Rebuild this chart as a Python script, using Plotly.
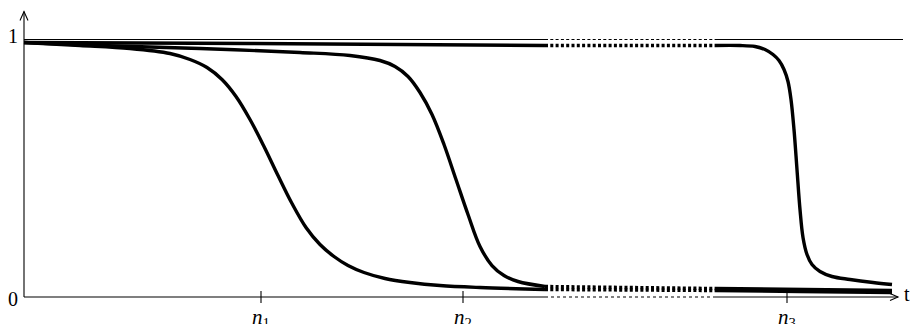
import plotly.graph_objects as go

# ---- data (t: time in arbitrary units along the axis, y: probability) ----
gap_start = 521
gap_end = 691

t_n1 = [0, 56, 106, 146, 166, 183, 198, 212, 226, 240, 254, 268, 282, 296, 310, 324, 340, 361, 386, 416, 456, 521, 691, 776, 868]
y_n1 = [0.9883, 0.9767, 0.9650, 0.9456, 0.9223, 0.8913, 0.8447, 0.7786, 0.6893, 0.5845, 0.4718, 0.3631, 0.2699,
        0.2039, 0.1573, 0.1223, 0.0951, 0.0718, 0.0563, 0.0447, 0.0369, 0.0291, 0.0252, 0.0214, 0.0175]

t_n2 = [0, 76, 176, 276, 326, 356, 371, 384, 396, 408, 420, 432, 444, 456, 468, 480, 494, 521, 691, 868]
y_n2 = [0.9883, 0.9767, 0.9650, 0.9495, 0.9379, 0.9184, 0.8951, 0.8563, 0.7942, 0.7087, 0.5922, 0.4563, 0.3204,
        0.1961, 0.1223, 0.0835, 0.0602, 0.0408, 0.0330, 0.0252]

t_n3 = [0, 226, 521, 691, 716, 731, 741, 749, 755, 760, 764, 767, 770, 773, 776, 779, 783, 788, 796, 808, 826, 849, 868]
y_n3 = [0.9883, 0.9845, 0.9767, 0.9767, 0.9767, 0.9728, 0.9612, 0.9417, 0.9184, 0.8835, 0.8369, 0.7670, 0.6505,
        0.4951, 0.3398, 0.2311, 0.1650, 0.1262, 0.0990, 0.0796, 0.0680, 0.0563, 0.0485]

tick_vals = [237, 439, 763]
tick_text = ["<i>n</i><sub>1</sub>", "<i>n</i><sub>2</sub>", "<i>n</i><sub>3</sub>"]

y_labels = [0, 1]
x_axis_end = 874
ref_line_end = 879
y_arrow_tip = 1.1087
x_range = [-24, 891]
y_range = [-0.10485, 1.1534]

SERIF = "Liberation Serif, Times New Roman, serif"
fig = go.Figure()


def split(ts, ys):
    pre = [(t, y) for t, y in zip(ts, ys) if t <= gap_start]
    mid = [(t, y) for t, y in zip(ts, ys) if gap_start <= t <= gap_end]
    post = [(t, y) for t, y in zip(ts, ys) if t >= gap_end]
    return pre, mid, post


def add_curve(ts, ys, width, dash_gap, shape="spline"):
    pre, mid, post = split(ts, ys)
    for seg, dash in ((pre, "solid"), (mid, dash_gap), (post, "solid")):
        if len(seg) < 2:
            continue
        fig.add_trace(go.Scatter(
            x=[p[0] for p in seg], y=[p[1] for p in seg], mode="lines",
            line=dict(color="black", width=width, dash=dash, shape=shape, smoothing=1.0),
            hoverinfo="skip", showlegend=False, cliponaxis=False))


# reference line at y = 1
add_curve([0, gap_start, gap_end, ref_line_end], [1, 1, 1, 1], 1.1, "3px,2.3px", shape="linear")
# x axis
add_curve([0, gap_start, gap_end, x_axis_end], [0, 0, 0, 0], 1.1, "3px,3px", shape="linear")

for ts, ys in ((t_n1, y_n1), (t_n2, y_n2), (t_n3, y_n3)):
    add_curve(ts, ys, 3.4, "3px,2.3px")

shapes = []
# y axis
shapes.append(dict(type="line", xref="x", yref="y", x0=0, x1=0, y0=0, y1=y_arrow_tip,
                   line=dict(color="black", width=1.1)))
# arrow heads
shapes.append(dict(type="path", xref="x", yref="y", xsizemode="pixel", ysizemode="pixel",
                   xanchor=0, yanchor=y_arrow_tip, path="M -4,-9 L 0,0 L 4,-9",
                   line=dict(color="black", width=1.1)))
shapes.append(dict(type="path", xref="x", yref="y", xsizemode="pixel", ysizemode="pixel",
                   xanchor=x_axis_end, yanchor=0, path="M -8,3.5 L 0,0 L -8,-3.5",
                   line=dict(color="black", width=1.1)))
# crossing tick marks
for tv in tick_vals:
    shapes.append(dict(type="line", xref="x", yref="y", ysizemode="pixel", yanchor=0,
                       x0=tv, x1=tv, y0=-6, y1=6, line=dict(color="black", width=1.1)))

annotations = []
for tv, tt in zip(tick_vals, tick_text):
    annotations.append(dict(x=tv, y=0, xref="x", yref="y", text=tt, showarrow=False,
                            yanchor="top", yshift=-6, font=dict(family=SERIF, size=21, color="black")))
for yl in y_labels:
    annotations.append(dict(x=0, y=yl, xref="x", yref="y", text=str(yl), showarrow=False,
                            xanchor="right", xshift=-4, yshift=4 if yl == 1 else -2,
                            font=dict(family=SERIF, size=20, color="black")))
annotations.append(dict(x=x_axis_end, y=0, xref="x", yref="y", text="t", showarrow=False,
                        xanchor="left", xshift=4, yshift=3,
                        font=dict(family=SERIF, size=20, color="black")))

fig.update_layout(
    width=915, height=324,
    margin=dict(l=0, r=0, t=0, b=0, pad=0),
    paper_bgcolor="white", plot_bgcolor="white",
    xaxis=dict(range=x_range, visible=False, fixedrange=True),
    yaxis=dict(range=y_range, visible=False, fixedrange=True),
    shapes=shapes, annotations=annotations,
    showlegend=False,
)

fig.write_html("out.html", config={"displayModeBar": False},
               post_script="document.body.style.margin='0px';")
